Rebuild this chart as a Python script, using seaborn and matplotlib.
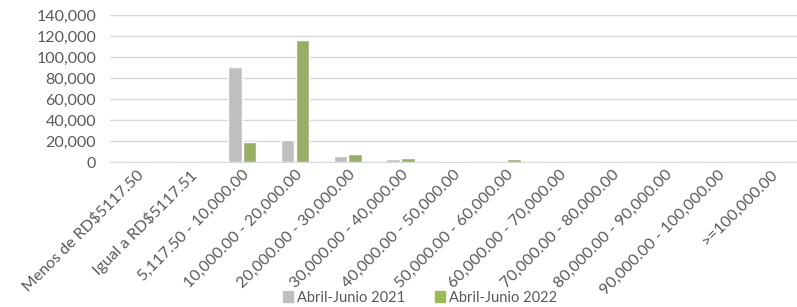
import pandas as pd
import matplotlib.pyplot as plt
import seaborn as sns
from matplotlib.ticker import FuncFormatter
from matplotlib.patches import Patch

categorias = [
    "Menos de RD$5117.50", "Igual a RD$5117.51", "5,117.50 - 10,000.00",
    "10,000.00 - 20,000.00", "20,000.00 - 30,000.00", "30,000.00 - 40,000.00",
    "40,000.00 - 50,000.00", "50,000.00 - 60,000.00", "60,000.00 - 70,000.00",
    "70,000.00 - 80,000.00", "80,000.00 - 90,000.00", "90,000.00 - 100,000.00",
    ">=100,000.00",
]
valores_2021 = [0, 0, 91000, 21500, 6000, 3100, 1500, 300, 0, 0, 0, 0, 0]
valores_2022 = [0, 0, 19000, 116500, 8000, 4200, 1400, 2500, 0, 0, 0, 0, 0]
series = ["Abril-Junio 2021", "Abril-Junio 2022"]
colores = ["#BFBFBF", "#9BBB59"]

df = pd.DataFrame({
    "categoria": categorias * 2,
    "valor": valores_2021 + valores_2022,
    "serie": [series[0]] * len(categorias) + [series[1]] * len(categorias),
})

sns.set_style("white")
plt.rcParams['font.family'] = ['Lato', 'DejaVu Sans']
texto = "#595959"

fig = plt.figure(figsize=(7.97, 3.07), dpi=100)
ax = fig.add_axes([0.138, 0.472, 0.862, 0.479])
sns.barplot(data=df, x="categoria", y="valor", hue="serie", palette=colores,
            width=0.56, gap=0.08, ax=ax, legend=False)

ax.set_ylim(0, 140000)
ax.set_yticks(range(0, 140001, 20000))
ax.yaxis.set_major_formatter(FuncFormatter(lambda v, p: f"{int(v):,}"))
ax.grid(axis="y", color="#D9D9D9", linewidth=1)
ax.set_axisbelow(True)
for s in ["top", "right", "left"]:
    ax.spines[s].set_visible(False)
ax.spines["bottom"].set_color("#D9D9D9")
ax.set_xlabel("")
ax.set_ylabel("")
ax.tick_params(axis="y", length=0, colors=texto, labelsize=11.5, pad=10)
ax.tick_params(axis="x", length=0, colors=texto, labelsize=11.5, pad=4)
plt.setp(ax.get_xticklabels(), rotation=45, ha="right", rotation_mode="anchor")
ax.set_xlim(-0.5, len(categorias) - 0.5)

handles = [Patch(color=c, label=s) for c, s in zip(colores, series)]
leg = fig.legend(handles=handles, loc="lower center", bbox_to_anchor=(0.527, -0.035),
                 ncol=2, frameon=False, handlelength=0.7, handleheight=0.7,
                 handletextpad=0.3, columnspacing=2.0, fontsize=10.5)
for t in leg.get_texts():
    t.set_color(texto)

fig.savefig("out.png", dpi=100)
